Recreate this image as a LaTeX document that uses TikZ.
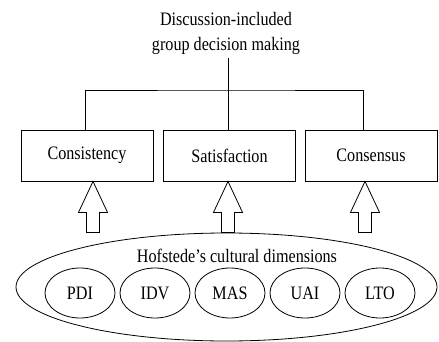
\documentclass[tikz,border=0pt]{standalone}
\usepackage{fontspec}
\setmainfont{Liberation Serif}[FakeStretch=0.85]
\usetikzlibrary{shapes.geometric}
\tikzset{
  factor/.style={draw,rectangle,minimum width=132pt,minimum height=51pt,inner sep=0pt},
  dimension/.style={draw,ellipse,minimum width=70pt,minimum height=50pt,inner sep=0pt},
  culture/.style={draw,ellipse,minimum width=421pt,minimum height=108pt,inner sep=0pt}
}
\begin{document}
\begin{tikzpicture}[x=1pt,y=-1pt,line width=0.8pt,font=\fontsize{19}{25}\selectfont]
\useasboundingbox (0,0) rectangle (439,342);
\node[align=center] (title) at (226,33) {Discussion-included\\group decision making};
\coordinate (split) at (228,90);

\node[factor] (box1) at (87,155.5) {Consistency};
\node[factor] (box2) at (229.5,155.5) {Satisfaction};
\node[factor] (box3) at (371,155.5) {Consensus};

\node[culture] (hof) at (226.5,287) {};
\node (hoftext) at (237,256) {Hofstede’s cultural dimensions};
\node[dimension] (pdi) at (80,293) {PDI};
\node[dimension] (idv) at (155,293) {IDV};
\node[dimension] (mas) at (230,293) {MAS};
\node[dimension] (uai) at (305,293) {UAI};
\node[dimension] (lto) at (380,293) {LTO};

\draw (split |- title.south) -- (split);
\draw ([xshift=-2]box1.north) |- (split) -| ([xshift=-8]box3.north);
\draw (split) -- (split |- box2.north);
\foreach \b/\dx in {box1/6,box2/-1.5,box3/-6}
  \draw ([xshift=\dx]\b.south) -- ++(-14.5,31) -- ++(8,0) -- ++(0,20)
    -- ++(13,0) -- ++(0,-20) -- ++(8,0) -- cycle;
\end{tikzpicture}
\end{document}
